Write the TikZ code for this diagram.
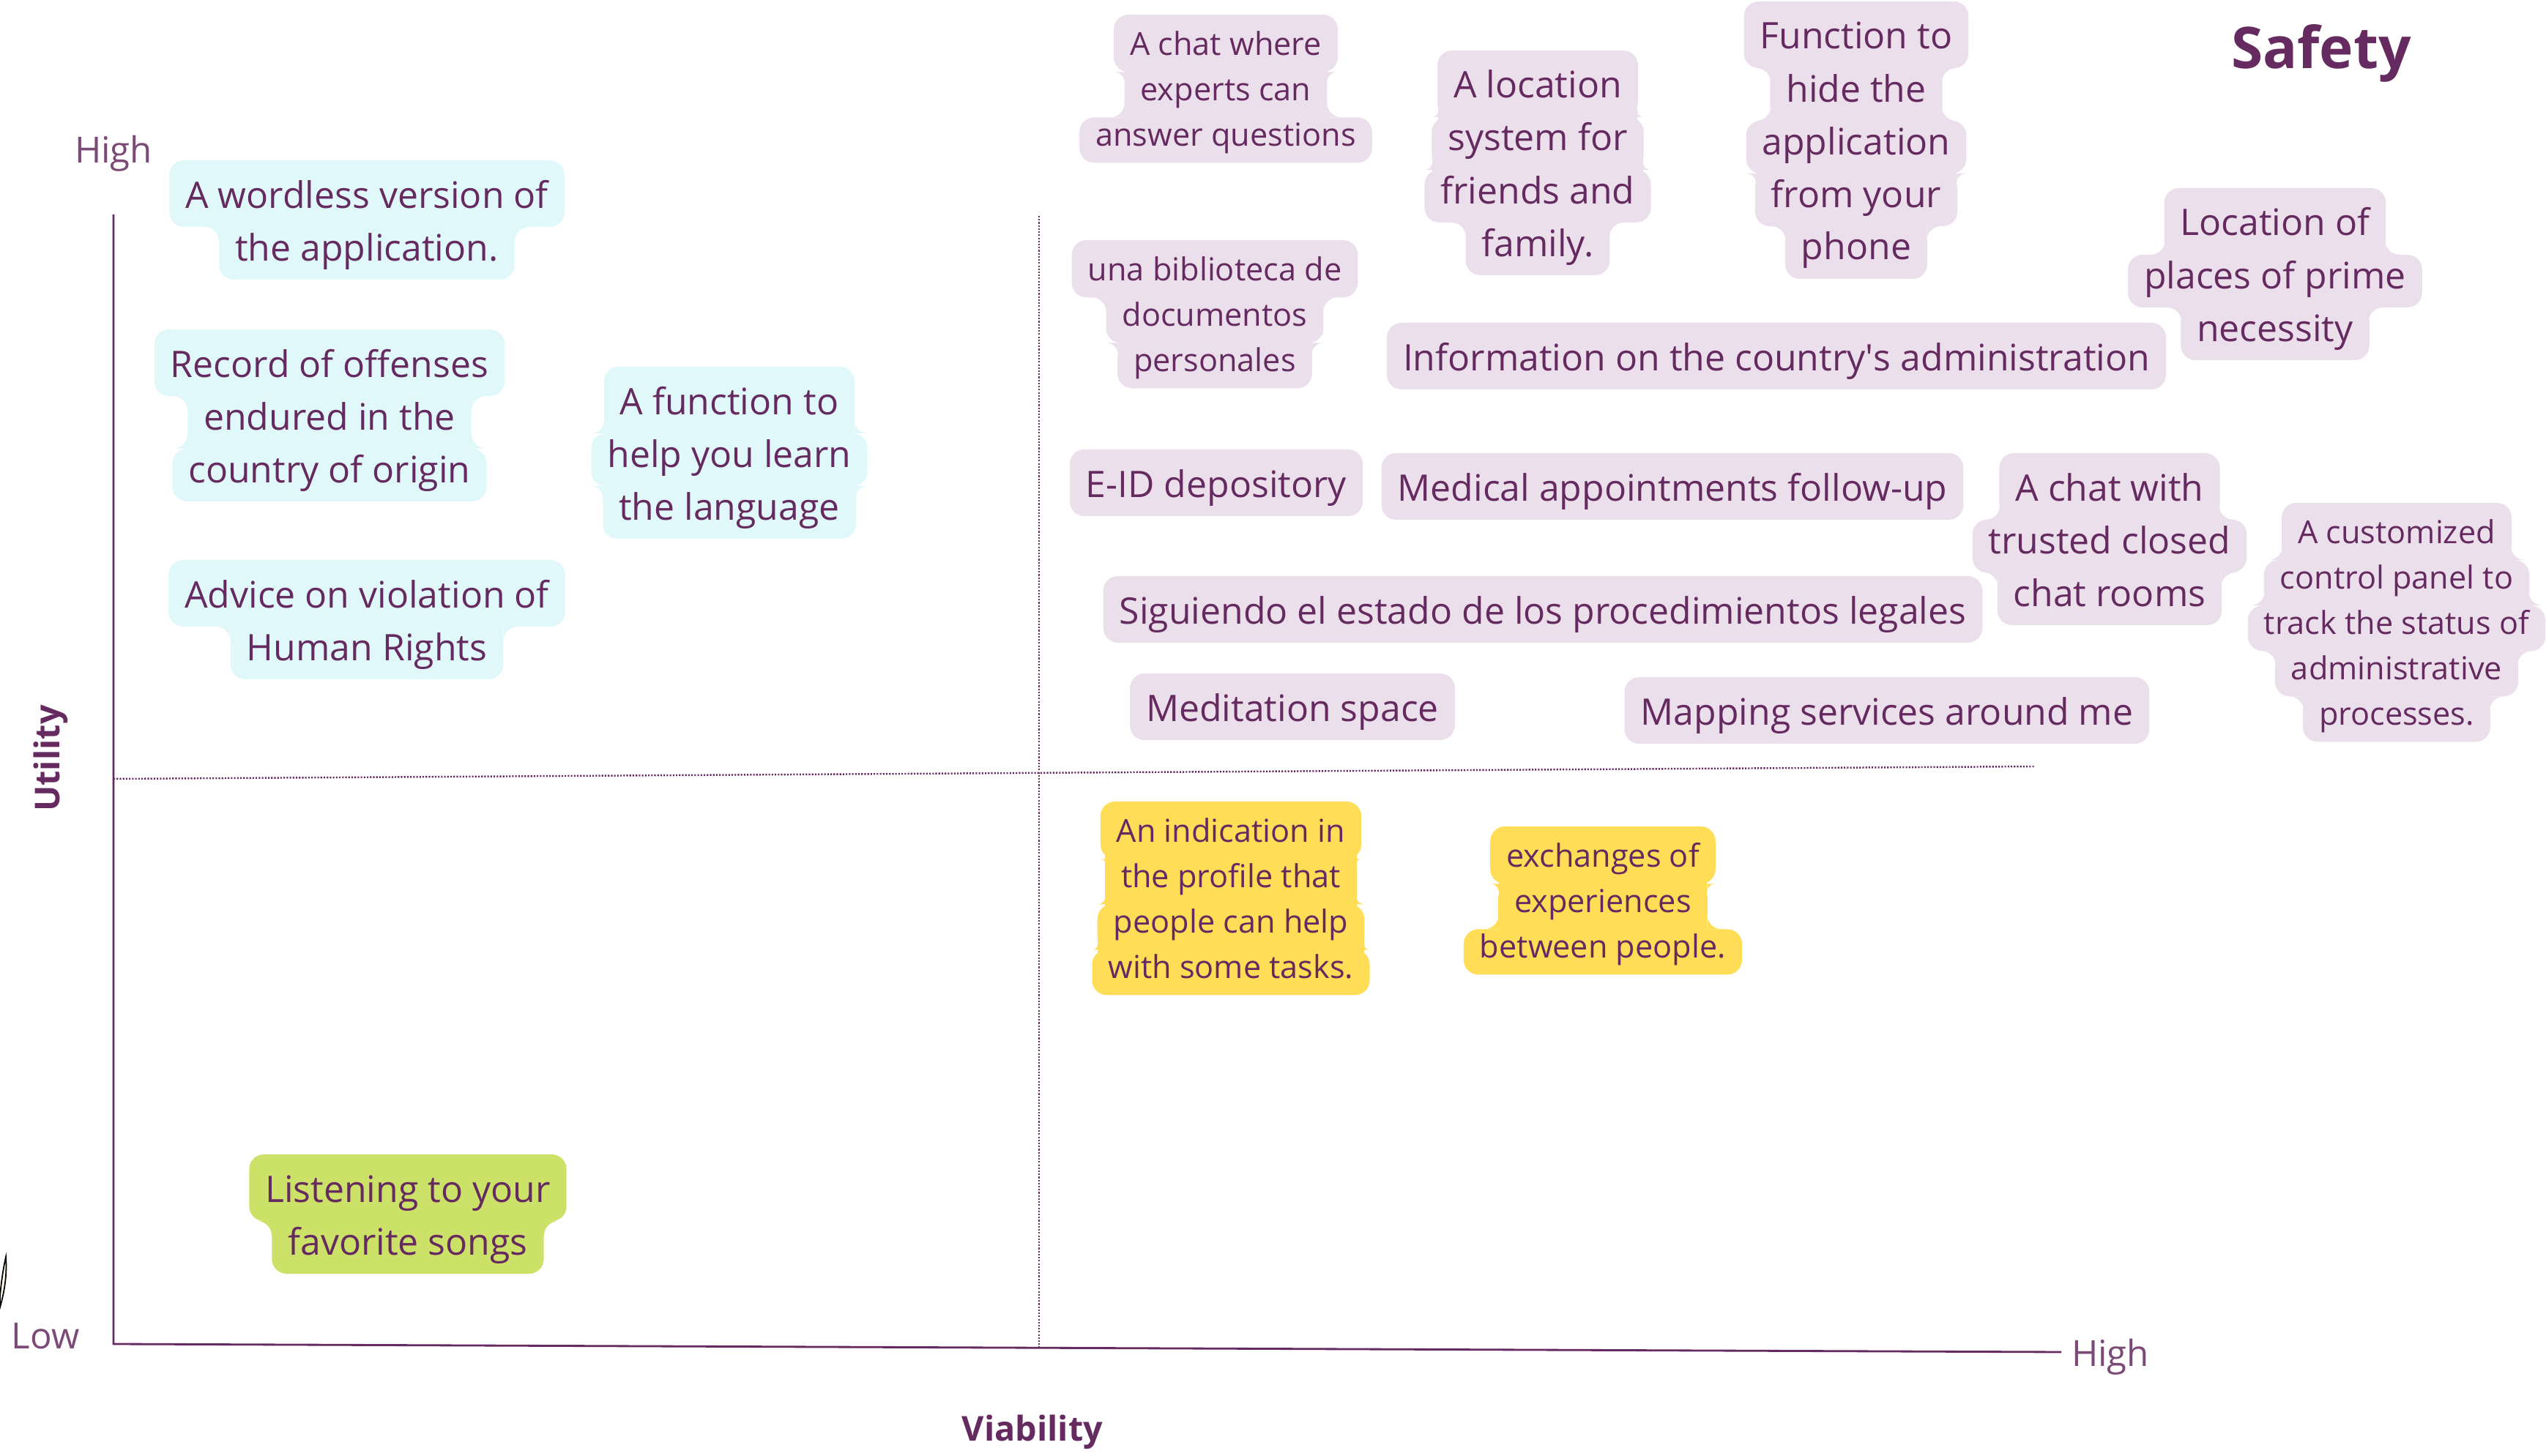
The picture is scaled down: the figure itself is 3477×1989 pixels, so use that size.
\documentclass[tikz,border=0pt]{standalone}
\usepackage{fontspec}
\setmainfont{Open Sans}
\definecolor{ink}{RGB}{101,42,95}
\definecolor{cyanbg}{RGB}{224,248,250}
\definecolor{pinkbg}{RGB}{235,223,235}
\definecolor{yellowbg}{RGB}{255,221,87}
\definecolor{greenbg}{RGB}{204,225,103}
\definecolor{leaf}{RGB}{255,247,232}
\newcommand\lgf{\fontsize{14.2pt}{16pt}\selectfont}
\newcommand\smf{\fontsize{12.3pt}{14pt}\selectfont}
\newcommand\axf{\fontsize{14pt}{16pt}\selectfont}
\newcommand\bxf{\bfseries\fontsize{13.3pt}{15pt}\selectfont}
\newcommand\sq{\XeTeXglyph\XeTeXcharglyph"27\relax}
\def\hlr{20}
\def\hlk{0.5523}
\tikzset{
  axisline/.style={ink, line width=0.8pt},
  dotline/.style={ink, line width=0.7pt, dash pattern=on 0.6pt off 0.6pt},
  axlabel/.style={anchor=base, inner sep=0pt, text=ink!85, font=\axf},
  axtitle/.style={anchor=base, inner sep=0pt, text=ink, font=\bxf},
  cellbg/.style={anchor=base, inner xsep=0.22cm, inner ysep=0pt, rounded corners=0.2cm},
  celltext/.style={anchor=base, inner sep=0pt, text=ink},
}
% #1 name, #2 fill, #3 font, #4 pitch(px), #5 centre x, #6 top y, #7 lines
\newcommand\hlbox[7]{%
  \foreach \hlline [count=\hli from 0] in {#7}{%
    \pgfmathsetmacro\hlb{#6+0.903*#4+\hli*#4}%
    \pgfmathsetmacro\hlth{(0.639*#4+((\hli==0) ? 0.264*#4 : 0))*0.01}%
    \pgfmathsetmacro\hltd{0.361*#4*0.01}%
    \node[cellbg, fill=#2, font=#3, text height=\hlth cm, text depth=\hltd cm] (#1bg\hli) at (#5,\hlb) {\phantom{\hlline}};%
    \ifnum\hli>0
      \pgfmathtruncatemacro\hlj{\hli-1}%
      \pgfpointanchor{#1bg\hli}{east}\pgfgetlastxy{\hlex}{\hley}%
      \pgfpointanchor{#1bg\hlj}{east}\pgfgetlastxy{\hlpx}{\hlpy}%
      \pgfmathsetmacro\hlw{\hlex/0.284528-#5}%
      \pgfmathsetmacro\hlp{\hlpx/0.284528-#5}%
      \pgfmathsetmacro\hltop{\hlb-0.639*#4}%
      \pgfmathsetmacro\hlwn{min(\hlw,\hlp)}%
      \pgfmathsetmacro\hlrf{min(\hlr,abs(\hlw-\hlp))}%
      \pgfmathsetmacro\hls{(\hlw<\hlp) ? 1 : -1}%
      \pgfmathsetmacro\hlyf{\hltop+\hls*\hlrf}%
      \pgfmathsetmacro\hlyc{\hltop+\hls*\hlrf*(1-\hlk)}%
      \pgfmathsetmacro\hlxa{#5+\hlwn}%
      \pgfmathsetmacro\hlxb{#5-\hlwn}%
      \fill[#2] (\hlxb,{\hltop-\hlr}) rectangle (\hlxa,{\hltop+\hlr});%
      \ifdim\hlrf pt>0.5pt
        \fill[#2] (\hlxa,\hltop) -- ({\hlxa+\hlrf},\hltop) .. controls ({\hlxa+\hlrf*(1-\hlk)},\hltop) and (\hlxa,\hlyc) .. (\hlxa,\hlyf) -- cycle;%
        \fill[#2] (\hlxb,\hltop) -- ({\hlxb-\hlrf},\hltop) .. controls ({\hlxb-\hlrf*(1-\hlk)},\hltop) and (\hlxb,\hlyc) .. (\hlxb,\hlyf) -- cycle;%
      \fi
    \fi
  }%
  \foreach \hlline [count=\hli from 0] in {#7}{%
    \pgfmathsetmacro\hlb{#6+0.903*#4+\hli*#4}%
    \node[celltext, font=#3] (#1\hli) at (#5,\hlb) {\hlline};%
  }%
}
\begin{document}
\begin{tikzpicture}[x=0.01cm,y=-0.01cm]
\useasboundingbox (0,0) rectangle (3477,1989);
% axes
\coordinate (ytop) at (155,293);
\coordinate (orig) at (155,1836);
\coordinate (xend) at (2815,1847);
\draw[axisline] (ytop) -- (orig) -- (xend);
\coordinate (vd1) at (1419,295);
\coordinate (vd2) at (1419,1840);
\coordinate (hd1) at (155,1064);
\coordinate (hd2) at (2779,1047);
\draw[dotline] (vd1) -- (vd2);
\draw[dotline] (hd1) -- (hd2);
% small leaf at left edge
\draw[black, line width=0.5pt, fill=leaf] (8,1717) .. controls (10,1745) and (5,1768) .. (0,1786) -- (0,1770) .. controls (2,1750) and (4,1735) .. (8,1717) -- cycle;
% axis labels
\node[axlabel] (hightop) at (155,223) {High};
\node[axlabel] (low) at (62,1843) {Low};
\node[axlabel] (highright) at (2882,1867) {High};
\node[axtitle, rotate=90] (utility) at (81,1036) {Utility};
\node[axtitle] (viability) at (1410,1969) {Viability};
\node[anchor=base, inner sep=0pt, text=ink, font=\bfseries\fontsize{22.3pt}{27pt}\selectfont] (safety) at (3170,94) {Safety};
% cards
\hlbox{wordless}{cyanbg}{\lgf}{72}{501}{219}{A wordless version of,the application.}
\hlbox{record}{cyanbg}{\lgf}{72}{450}{450}{Record of offenses,endured in the,country of origin}
\hlbox{learn}{cyanbg}{\lgf}{72}{996}{501}{A function to,help you learn,the language}
\hlbox{advice}{cyanbg}{\lgf}{72}{501}{765}{Advice on violation of,Human Rights}
\hlbox{songs}{greenbg}{\lgf}{72}{557}{1577}{Listening to your,favorite songs}
\hlbox{experts}{pinkbg}{\smf}{62}{1674}{20}{A chat where,experts can,answer questions}
\hlbox{locsys}{pinkbg}{\lgf}{72}{2100}{69}{A location,system for,friends and,family.}
\hlbox{hide}{pinkbg}{\lgf}{72}{2535}{2}{Function to,hide the,application,from your,phone}
\hlbox{prime}{pinkbg}{\lgf}{72}{3107}{257}{Location of,places of prime,necessity}
\hlbox{biblio}{pinkbg}{\smf}{62}{1659}{328}{una biblioteca de,documentos,personales}
\hlbox{info}{pinkbg}{\lgf}{72}{2426}{441}{Information on the country\sq s administration}
\hlbox{eid}{pinkbg}{\lgf}{72}{1661}{614}{E-ID depository}
\hlbox{medical}{pinkbg}{\lgf}{72}{2284}{619}{Medical appointments follow-up}
\hlbox{trusted}{pinkbg}{\lgf}{72}{2881}{619}{A chat with,trusted closed,chat rooms}
\hlbox{panel}{pinkbg}{\smf}{62}{3273}{687}{A customized,control panel to,track the status of,administrative,processes.}
\hlbox{legal}{pinkbg}{\lgf}{72}{2107}{787}{Siguiendo el estado de los procedimientos legales}
\hlbox{medit}{pinkbg}{\lgf}{72}{1765}{920}{Meditation space}
\hlbox{mapping}{pinkbg}{\lgf}{72}{2577}{925}{Mapping services around me}
\hlbox{indication}{yellowbg}{\smf}{62}{1681}{1095}{An indication in,the profile that,people can help,with some tasks.}
\hlbox{exchanges}{yellowbg}{\smf}{62}{2189}{1129}{exchanges of,experiences,between people.}
\end{tikzpicture}
\end{document}
